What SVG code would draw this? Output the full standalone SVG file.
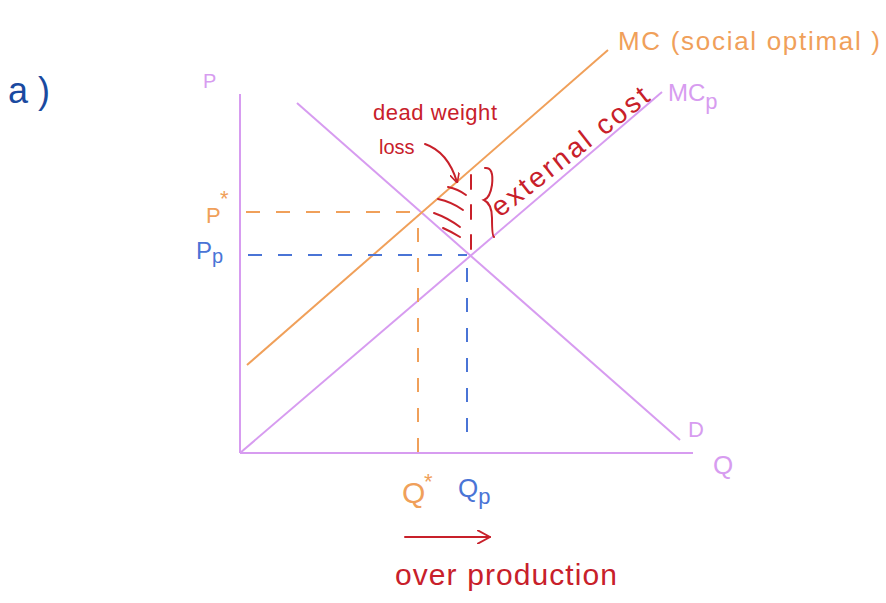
<svg xmlns="http://www.w3.org/2000/svg" width="886" height="603" viewBox="0 0 886 603">
<defs>
<style>
.pk{stroke:#d79cf0;stroke-width:2;fill:none}
.or{stroke:#f0a05a;stroke-width:2;fill:none}
.bl{stroke:#4a74d6;stroke-width:2;fill:none}
.rd{stroke:#c8202a;stroke-width:2;fill:none;stroke-linecap:round}
.dash{stroke-dasharray:14 16}
text{font-family:"Liberation Sans","DejaVu Sans",sans-serif;font-weight:300}
.tpk{fill:#d79cf0}.tor{fill:#f0a05a}.tbl{fill:#4a74d6}.trd{fill:#c8202a}.tnv{fill:#1a4aa0}
</style>
<marker id="ah" viewBox="0 0 10 10" refX="9" refY="5" markerWidth="10" markerHeight="10" markerUnits="userSpaceOnUse" orient="auto">
<path d="M0,0 L10,5 L0,10" fill="none" stroke="#c8202a" stroke-width="1.6"/>
</marker>
<marker id="ah2" viewBox="0 0 12 12" refX="11" refY="6" markerWidth="14" markerHeight="14" markerUnits="userSpaceOnUse" orient="auto">
<path d="M0,0 L11,6 L0,12" fill="none" stroke="#c8202a" stroke-width="1.6"/>
</marker>
</defs>
<rect width="886" height="603" fill="#fff"/>
<g id="connectors">
<line class="pk" x1="240" y1="94" x2="240" y2="453"/>
<line class="pk" x1="240" y1="453" x2="693" y2="453"/>
<line id="D" class="pk" x1="297" y1="103" x2="680" y2="440"/>
<line id="MCp" class="pk" x1="240" y1="453" x2="662" y2="92"/>
<line id="MC" class="or" x1="247" y1="365" x2="608" y2="50"/>
<line class="or dash" x1="246" y1="212" x2="418" y2="212"/>
<line class="or dash" x1="418" y1="228" x2="418" y2="453" stroke-dasharray="18 22"/>
<line class="bl dash" x1="248" y1="255" x2="467" y2="255" stroke-dasharray="12 24"/>
<line class="bl dash" x1="467" y1="268" x2="467" y2="447" stroke-dasharray="20 24"/>
<line class="rd dash" x1="471" y1="175" x2="471" y2="252" stroke-dasharray="8 7"/>
<path class="rd" d="M448,187 Q458,189 466,195"/>
<path class="rd" d="M438,199 Q452,202 463,210"/>
<path class="rd" d="M434,213 Q448,218 460,227"/>
<path class="rd" d="M443,228 Q452,232 460,237"/>
<path class="rd" d="M425,144 Q448,152 457,182" marker-end="url(#ah)"/>
<path class="rd" d="M485,168 Q494,167 492,185 Q490,198 484,200 Q492,204 492,218 Q492,236 494,237"/>
<line class="rd" x1="405" y1="537" x2="490" y2="537" marker-end="url(#ah2)"/>
</g>
<g id="labels">
<text class="tnv" x="8" y="103" font-size="36">a )</text>
<text class="tpk" x="203" y="88" font-size="20">P</text>
<text class="tor" x="206" y="223" font-size="22">P</text>
<text class="tor" x="220" y="206" font-size="22">*</text>
<text class="tbl" x="196" y="259" font-size="24">P<tspan font-size="20" dy="4">p</tspan></text>
<text class="tor" x="618" y="50" font-size="26" textLength="262">MC (social optimal )</text>
<text class="tpk" x="668" y="101" font-size="24">MC<tspan font-size="22" dy="8">p</tspan></text>
<text class="tpk" x="688" y="437" font-size="22">D</text>
<text class="tpk" x="713" y="474" font-size="26">Q</text>
<text class="tor" x="402" y="503" font-size="30">Q</text>
<text class="tor" x="424" y="489" font-size="22">*</text>
<text class="tbl" x="458" y="497" font-size="26">Q<tspan font-size="22" dy="7">p</tspan></text>
<text class="trd" x="373" y="120" font-size="22" textLength="124">dead weight</text>
<text class="trd" x="379" y="154" font-size="20">loss</text>
<text class="trd" x="500" y="218" font-size="28" textLength="192" transform="rotate(-38 500 218)">external cost</text>
<text class="trd" x="395" y="585" font-size="30" textLength="222">over production</text>
</g>
</svg>
